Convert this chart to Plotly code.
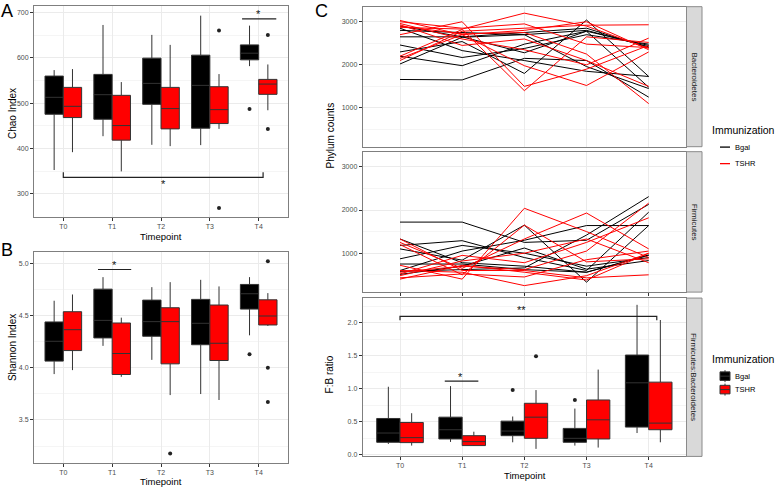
import plotly.graph_objects as go

W, H = 778, 488
FONT = "Liberation Sans, Arial, Helvetica, sans-serif"

timepoints = ["T0", "T1", "T2", "T3", "T4"]
groups = ["Bgal", "TSHR"]
group_colors = ["#000000", "#FF0000"]

# ---- Panel A: Chao index box statistics (per timepoint) ----
chao_bgal_q1 = [475.5, 464.5, 497.4, 444.8, 595.4]
chao_bgal_med = [512.8, 518.6, 543.5, 539.1, 610.0]
chao_bgal_q3 = [559.6, 563.3, 599.1, 605.7, 628.3]
chao_bgal_lo = [352.7, 427.2, 408.2, 407.5, 581.5]
chao_bgal_hi = [572.8, 672.2, 650.3, 692.7, 670.7]
chao_tshr_q1 = [468.2, 418.5, 443.3, 455.0, 519.4]
chao_tshr_med = [493.0, 450.6, 488.0, 485.7, 542.0]
chao_tshr_q3 = [534.7, 517.2, 534.7, 536.2, 552.3]
chao_tshr_lo = [392.0, 349.7, 405.3, 443.3, 484.3]
chao_tshr_hi = [575.0, 546.4, 628.3, 564.0, 585.2]
chao_bgal_out_t = ["T4"]
chao_bgal_out_v = [487.2]
chao_tshr_out_t = ["T3", "T3", "T4", "T4"]
chao_tshr_out_v = [659.8, 269.3, 650.3, 443.3]

# ---- Panel B: Shannon index ----
shan_bgal_q1 = [4.063, 4.285, 4.301, 4.220, 4.561]
shan_bgal_med = [4.253, 4.453, 4.441, 4.425, 4.708]
shan_bgal_q3 = [4.438, 4.752, 4.647, 4.654, 4.797]
shan_bgal_lo = [3.939, 4.209, 4.075, 3.748, 4.310]
shan_bgal_hi = [4.641, 4.867, 4.771, 4.841, 4.867]
shan_tshr_q1 = [4.164, 3.935, 4.037, 4.069, 4.409]
shan_tshr_med = [4.364, 4.136, 4.441, 4.234, 4.495]
shan_tshr_q3 = [4.536, 4.428, 4.574, 4.600, 4.650]
shan_tshr_lo = [3.977, 3.913, 3.738, 3.691, 4.400]
shan_tshr_hi = [4.701, 4.479, 4.819, 4.778, 4.714]
shan_bgal_out_t = ["T4"]
shan_bgal_out_v = [4.129]
shan_tshr_out_t = ["T2", "T4", "T4", "T4"]
shan_tshr_out_v = [3.179, 5.019, 4.000, 3.672]

# ---- Panel C bottom: F:B ratio ----
fb_bgal_q1 = [0.19, 0.24, 0.29, 0.19, 0.42]
fb_bgal_med = [0.33, 0.38, 0.36, 0.25, 1.09]
fb_bgal_q3 = [0.55, 0.57, 0.51, 0.40, 1.51]
fb_bgal_lo = [0.165, 0.195, 0.19, 0.14, 0.33]
fb_bgal_hi = [1.03, 1.04, 0.58, 0.70, 2.27]
fb_tshr_q1 = [0.185, 0.14, 0.25, 0.24, 0.38]
fb_tshr_med = [0.26, 0.20, 0.57, 0.53, 0.48]
fb_tshr_q3 = [0.49, 0.29, 0.78, 0.83, 1.10]
fb_tshr_lo = [0.14, 0.135, 0.09, 0.11, 0.19]
fb_tshr_hi = [0.63, 0.35, 0.98, 1.29, 2.04]
fb_bgal_out_t = ["T2", "T3"]
fb_bgal_out_v = [0.98, 0.83]
fb_tshr_out_t = ["T2"]
fb_tshr_out_v = [1.49]

# ---- Panel C top/middle: phylum counts per mouse (T0..T4) ----
bac_bgal = [
    [1660, 1650, 2150, 2100, 1250],
    [2020, 2640, 2700, 2800, 2420],
    [2200, 1980, 2480, 2780, 1480],
    [2300, 2540, 1800, 3040, 1730],
    [2460, 2170, 2380, 2700, 2480],
    [2650, 2650, 2750, 2850, 2400],
    [2850, 2330, 2100, 1850, 1730],
    [2900, 2650, 2280, 2780, 2450],
    [2800, 2750, 2700, 1960, 1450],
]
bac_tshr = [
    [3030, 2700, 2800, 3000, 2350],
    [3000, 2850, 2950, 2480, 2400],
    [2960, 2600, 2350, 2000, 2620],
    [2930, 2450, 2600, 2100, 1500],
    [2900, 2720, 2750, 2250, 1100],
    [2870, 2830, 3200, 2900, 2380],
    [2700, 3000, 1500, 1900, 2450],
    [2200, 2820, 1400, 2650, 2520],
    [2150, 2700, 1980, 1520, 2300],
    [2100, 2780, 2850, 2920, 2930],
]
firm_bgal = [
    [1720, 1720, 1250, 1300, 2130],
    [1330, 780, 700, 560, 960],
    [1180, 1290, 900, 600, 1950],
    [1100, 840, 1650, 330, 1640],
    [870, 1180, 1000, 700, 900],
    [750, 750, 620, 560, 950],
    [600, 1050, 1300, 1640, 1640],
    [510, 700, 1120, 630, 830],
    [580, 620, 660, 1420, 2310],
]
firm_tshr = [
    [400, 720, 560, 380, 1000],
    [430, 520, 450, 850, 1050],
    [480, 820, 1000, 1330, 780],
    [520, 950, 780, 1250, 1820],
    [560, 700, 620, 1050, 2160],
    [600, 560, 250, 480, 1000],
    [720, 400, 2040, 1500, 900],
    [1200, 500, 1650, 800, 870],
    [1250, 650, 1330, 1930, 1100],
    [1330, 600, 600, 430, 500],
]

# ---- layout helpers (pixel -> paper) ----
def fx(p):
    return p / W


def fy(p):
    return 1 - p / H


DODGE = 0.1875
BOXW = 0.375
idx = {t: i for i, t in enumerate(timepoints)}
GRID = "#EBEBEB"
MINOR = "#F5F5F5"
BORDER = "#7F7F7F"
TICKC = "#4D4D4D"

fig = go.Figure()


def add_boxes(xa, ya, stats, outs):
    for gi, g in enumerate(groups):
        q1, med, q3, lo, hi = stats[gi]
        off = -DODGE if gi == 0 else DODGE
        pos = [i + off for i in range(len(timepoints))]
        fig.add_trace(go.Box(
            x=pos, q1=q1, median=med, q3=q3, lowerfence=lo, upperfence=hi,
            width=BOXW, fillcolor=group_colors[gi], boxpoints=False,
            line=dict(color="#333333", width=1), whiskerwidth=0,
            xaxis=xa, yaxis=ya, name=g, showlegend=False, hoverinfo="skip"))
        ot, ov = outs[gi]
        fig.add_trace(go.Scatter(
            x=[idx[t] + off for t in ot], y=ov, mode="markers",
            marker=dict(color="#222222", size=4), xaxis=xa, yaxis=ya,
            showlegend=False, hoverinfo="skip"))


add_boxes("x", "y",
          [(chao_bgal_q1, chao_bgal_med, chao_bgal_q3, chao_bgal_lo, chao_bgal_hi),
           (chao_tshr_q1, chao_tshr_med, chao_tshr_q3, chao_tshr_lo, chao_tshr_hi)],
          [(chao_bgal_out_t, chao_bgal_out_v), (chao_tshr_out_t, chao_tshr_out_v)])
add_boxes("x2", "y2",
          [(shan_bgal_q1, shan_bgal_med, shan_bgal_q3, shan_bgal_lo, shan_bgal_hi),
           (shan_tshr_q1, shan_tshr_med, shan_tshr_q3, shan_tshr_lo, shan_tshr_hi)],
          [(shan_bgal_out_t, shan_bgal_out_v), (shan_tshr_out_t, shan_tshr_out_v)])
add_boxes("x5", "y5",
          [(fb_bgal_q1, fb_bgal_med, fb_bgal_q3, fb_bgal_lo, fb_bgal_hi),
           (fb_tshr_q1, fb_tshr_med, fb_tshr_q3, fb_tshr_lo, fb_tshr_hi)],
          [(fb_bgal_out_t, fb_bgal_out_v), (fb_tshr_out_t, fb_tshr_out_v)])


def add_lines(xa, ya, series, color):
    xs, ys = [], []
    for s in series:
        xs += list(range(len(timepoints))) + [None]
        ys += list(s) + [None]
    fig.add_trace(go.Scatter(x=xs, y=ys, mode="lines",
                             line=dict(color=color, width=1),
                             xaxis=xa, yaxis=ya, showlegend=False,
                             hoverinfo="skip"))


add_lines("x3", "y3", bac_bgal, group_colors[0])
add_lines("x3", "y3", bac_tshr, group_colors[1])
add_lines("x4", "y4", firm_bgal, group_colors[0])
add_lines("x4", "y4", firm_tshr, group_colors[1])

# ---- axes ----
xA = [fx(34), fx(288)]
xC = [fx(362.7), fx(686)]


def xaxis(domain, anchor, labels=True, ticks=True):
    return dict(domain=domain, anchor=anchor, range=[-0.6, 4.6],
                tickmode="array", tickvals=list(range(len(timepoints))),
                ticktext=timepoints, showticklabels=labels,
                ticks="outside" if ticks else "", ticklen=2.5, tickwidth=1,
                tickcolor="#333333", tickfont=dict(size=7, color=TICKC, family=FONT),
                showgrid=True, gridcolor=GRID, gridwidth=1, zeroline=False,
                showline=True, mirror=True, linecolor=BORDER, linewidth=1)


def yaxis(domain, anchor, rng, tick0, dtick, mdtick, fmt=None):
    d = dict(domain=domain, anchor=anchor, range=rng, tickmode="linear",
             tick0=tick0, dtick=dtick, ticks="outside", ticklen=3, tickwidth=1,
             tickcolor="#333333", tickfont=dict(size=7, color=TICKC, family=FONT),
             showgrid=True, gridcolor=GRID, gridwidth=1, zeroline=False,
             showline=True, mirror=True, linecolor=BORDER, linewidth=1,
             minor=dict(dtick=mdtick, tick0=tick0, showgrid=True,
                        gridcolor=MINOR, gridwidth=1, ticks=""))
    if fmt:
        d["tickformat"] = fmt
    return d


fig.update_layout(
    xaxis=xaxis(xA, "y"),
    yaxis=yaxis([fy(218), fy(6)], "x", [249, 714], 300, 100, 50),
    xaxis2=xaxis(xA, "y2"),
    yaxis2=yaxis([fy(465), fy(253.3)], "x2", [3.087, 5.105], 3.5, 0.5, 0.25, ".1f"),
    xaxis3=xaxis(xC, "y3", labels=False, ticks=False),
    yaxis3=yaxis([fy(147.3), fy(6.7)], "x3", [100, 3350], 0, 1000, 500),
    xaxis4=xaxis(xC, "y4", labels=False, ticks=True),
    yaxis4=yaxis([fy(293.3), fy(152.3)], "x4", [100, 3350], 0, 1000, 500),
    xaxis5=xaxis(xC, "y5"),
    yaxis5=yaxis([fy(458.3), fy(299.3)], "x5", [-0.024, 2.372], 0, 0.5, 0.25, ".1f"),
)

shapes = []
annotations = []

# ---- significance markers ----
sig_brackets = [
    # (xaxis, yaxis, x0, x1, y, tip, label, label_x, label_y)
    ("x", "y", 4 - 0.34, 4 + 0.36, 685.4, None, "*", 4.0, 696.0),
    ("x", "y", 0.0, 4.09, 336.6, 347.6, "*", 2.05, 322.0),
    ("x2", "y2", 1 - 0.29, 1 + 0.39, 4.94, None, "*", 1.05, 4.985),
    ("x5", "y5", 1 - 0.28, 1 + 0.26, 1.116, None, "*", 0.98, 1.18),
    ("x5", "y5", 0.0, 4.13, 2.095, 2.035, "**", 1.95, 2.19),
]
for xa, ya, x0, x1, yv, tip, lab, lx, ly in sig_brackets:
    if tip is None:
        path = f"M {x0},{yv} L {x1},{yv}"
    else:
        path = f"M {x0},{tip} L {x0},{yv} L {x1},{yv} L {x1},{tip}"
    shapes.append(dict(type="path", xref=xa, yref=ya, path=path,
                       line=dict(color="#222222", width=1.2)))
    annotations.append(dict(xref=xa, yref=ya, x=lx, y=ly, text=lab,
                            showarrow=False, xanchor="center", yanchor="middle",
                            font=dict(size=11, color="#111111", family=FONT)))

# ---- facet strips ----
strips = [("Bacteroidetes", 6.7, 147.3), ("Firmicutes", 152.3, 293.3),
          ("Firmicutes:Bacteroidetes", 299.3, 458.3)]
for lab, y0, y1 in strips:
    shapes.append(dict(type="rect", xref="paper", yref="paper",
                       x0=fx(686.5), x1=fx(702), y0=fy(y1), y1=fy(y0),
                       fillcolor="#D9D9D9", line=dict(color="#8A8A8A", width=1)))
    annotations.append(dict(xref="paper", yref="paper", x=fx(694.2),
                            y=fy((y0 + y1) / 2), text=lab, textangle=90,
                            showarrow=False, xanchor="center", yanchor="middle",
                            font=dict(size=8, color="#1A1A1A", family=FONT)))

# ---- text labels ----
def txt(x, y, s, size, angle=0, anchor="center", color="#000000", yanchor="middle"):
    annotations.append(dict(xref="paper", yref="paper", x=fx(x), y=fy(y),
                            text=s, textangle=angle, showarrow=False,
                            xanchor=anchor, yanchor=yanchor, borderpad=0,
                            font=dict(size=size, color=color, family=FONT)))


txt(0, 0, "A", 18, anchor="left", yanchor="top")
txt(0, 240, "B", 18, anchor="left", yanchor="top")
txt(314, 0, "C", 18, anchor="left", yanchor="top")
txt(12.5, 114, "Chao Index", 10, -90)
txt(12.5, 349, "Shannon Index", 10, -90)
txt(161, 237.5, "Timepoint", 9.5)
txt(161, 483, "Timepoint", 9.5)
txt(525, 477.5, "Timepoint", 9.5)
txt(330, 136, "Phylum counts", 10, -90)
txt(329, 376, "F:B ratio", 10, -90)

# ---- legends (drawn manually) ----
txt(711, 131, "Immunization", 10.5, anchor="left")
for gi, (g, c) in enumerate(zip(groups, group_colors)):
    yy = 147.7 + gi * 16.6
    shapes.append(dict(type="line", xref="paper", yref="paper",
                       x0=fx(720), x1=fx(730), y0=fy(yy), y1=fy(yy),
                       line=dict(color=c, width=1.3)))
    txt(733.5, yy, g, 7.5, anchor="left")

txt(711, 360.7, "Immunization", 10.5, anchor="left")
for gi, (g, c) in enumerate(zip(groups, group_colors)):
    yy = 377.7 + gi * 13.5
    shapes.append(dict(type="line", xref="paper", yref="paper",
                       x0=fx(725), x1=fx(725), y0=fy(yy - 6), y1=fy(yy + 6),
                       line=dict(color="#333333", width=1)))
    shapes.append(dict(type="rect", xref="paper", yref="paper",
                       x0=fx(720), x1=fx(730), y0=fy(yy + 4.3), y1=fy(yy - 4.3),
                       fillcolor=c, line=dict(color="#333333", width=1)))
    shapes.append(dict(type="line", xref="paper", yref="paper",
                       x0=fx(720), x1=fx(730), y0=fy(yy), y1=fy(yy),
                       line=dict(color="#333333", width=1)))
    txt(733.5, yy, g, 7.5, anchor="left")

fig.update_layout(
    width=W, height=H, margin=dict(l=0, r=0, t=0, b=0),
    paper_bgcolor="white", plot_bgcolor="white", showlegend=False,
    boxmode="overlay", shapes=shapes, annotations=annotations,
    font=dict(family=FONT),
)

fig.write_html(
    "out.html",
    config={"displayModeBar": False, "staticPlot": True},
    post_script="document.body.style.margin='0px';"
                "document.body.style.padding='0px';"
                "document.body.style.overflow='hidden';",
)
